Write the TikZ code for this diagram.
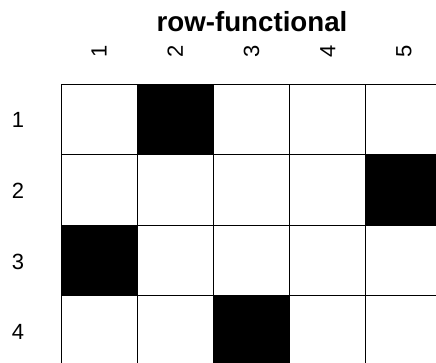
\documentclass[tikz,border=0pt]{standalone}
\usepackage{fontspec}
\setmainfont{Liberation Sans}
\begin{document}
\begin{tikzpicture}[x=1pt,y=-1pt,
  lab/.style={font=\fontsize{22}{22}\selectfont, inner sep=0pt},
  ttl/.style={font=\fontsize{27.7}{27.7}\selectfont\bfseries, inner sep=0pt, anchor=base},
  cell/.style={draw=black, line width=0.9pt}]
\useasboundingbox (0,0) rectangle (436,363);
\clip (0,0) rectangle (436,363);
\def\cx{61}\def\cw{76.2}\def\ry{84}\def\rh{70.6}
% cells
\foreach \r in {1,...,4}{
  \foreach \c in {1,...,5}{
    \draw[cell, fill=white] ({\cx+(\c-1)*\cw},{\ry+(\r-1)*\rh}) rectangle ++(\cw,\rh);
  }
}
\foreach \r/\c in {1/2,2/5,3/1,4/3}{
  \draw[cell, fill=black] ({\cx+(\c-1)*\cw},{\ry+(\r-1)*\rh}) rectangle ++(\cw,\rh);
}
% title
\node[ttl] (title) at (252,32) {row-functional};
% column labels
\foreach \c in {1,...,5}{
  \node[lab, rotate=90] (col\c) at ({\cx+(\c-0.5)*\cw},51.5) {\c};
}
% row labels
\foreach \r in {1,...,4}{
  \node[lab] (row\r) at (18,{\ry+(\r-0.5)*\rh+1}) {\r};
}
\end{tikzpicture}
\end{document}
